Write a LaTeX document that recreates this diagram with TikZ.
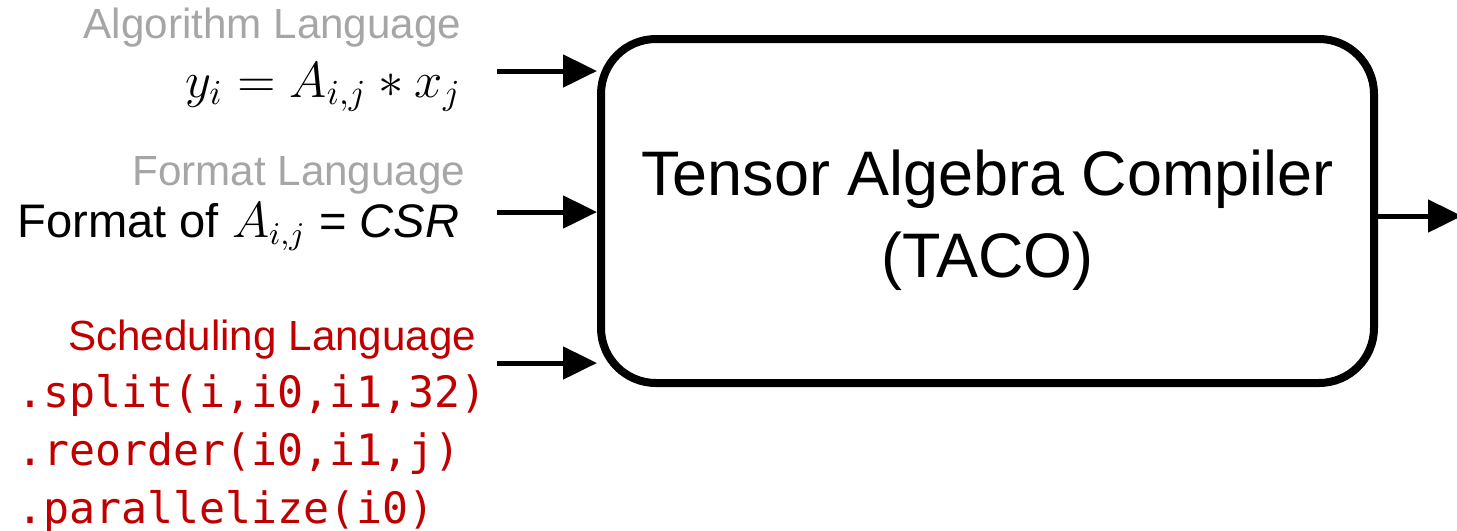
\documentclass[tikz,border=0pt]{standalone}
\usepackage{fontspec}
\setmainfont{Liberation Sans}
\setmonofont{DejaVu Sans Mono}
\usetikzlibrary{arrows.meta, positioning}

\definecolor{langgray}{RGB}{166,166,166}
\definecolor{schedred}{RGB}{192,0,0}

\begin{document}
\begin{tikzpicture}[
    inarrow/.style={-{Triangle[length=0.34cm, width=0.32cm]}, line width=0.05cm},
    langname/.style={anchor=base east, inner sep=0pt, font=\fontsize{12}{14}\selectfont},
    langexpr/.style={anchor=base east, inner sep=0pt, font=\fontsize{13.4}{16}\selectfont}
]
    \useasboundingbox (0,0) rectangle (14.57,-5.30);

    \node[draw, line width=0.08cm, rounded corners=0.55cm, minimum width=7.73cm, minimum height=3.44cm,
          label={[align=center, yshift=-0.09cm, font=\fontsize{17.9}{23.3}\selectfont]center:Tensor Algebra Compiler\\(TACO)}]
          (taco) at (9.875,-2.11) {};

    % algorithm language
    \node[langname, text=langgray] (algname) at (4.62,-0.38) {Algorithm Language};
    \node[langexpr, font=\fontsize{14.6}{17}\selectfont] (algexpr) at (4.62,-0.97) {$y_i = A_{i,j} * x_j$};

    % format language
    \node[langname, text=langgray] (fmtname) at (4.66,-1.85) {Format Language};
    \node[langexpr] (fmtexpr) at (4.60,-2.37) {Format of $A_{i,j}$ = \textit{CSR}};

    % scheduling language
    \node[langname, text=schedred] (schedname) at (4.77,-3.50) {Scheduling Language};
    \node[anchor=north west, inner sep=0pt, align=left, text=schedred,
          font=\ttfamily\fontsize{12.3}{16.4}\selectfont] (schedcode) at (0.17,-3.74)
          {.split(i,i0,i1,32)\\.reorder(i0,i1,j)\\.parallelize(i0)};

    \coordinate (alg in) at (4.97,-0.71);
    \coordinate (fmt in) at (4.97,-2.12);
    \coordinate (sched in) at (4.97,-3.63);
    \coordinate (out) at (14.62,-2.16);

    \path[inarrow] (alg in) edge (taco.west |- alg in);
    \path[inarrow] (fmt in) edge (taco.west |- fmt in);
    \path[inarrow] (sched in) edge (taco.west |- sched in);
    \path[inarrow] (taco.east |- out) edge (out);
\end{tikzpicture}
\end{document}
